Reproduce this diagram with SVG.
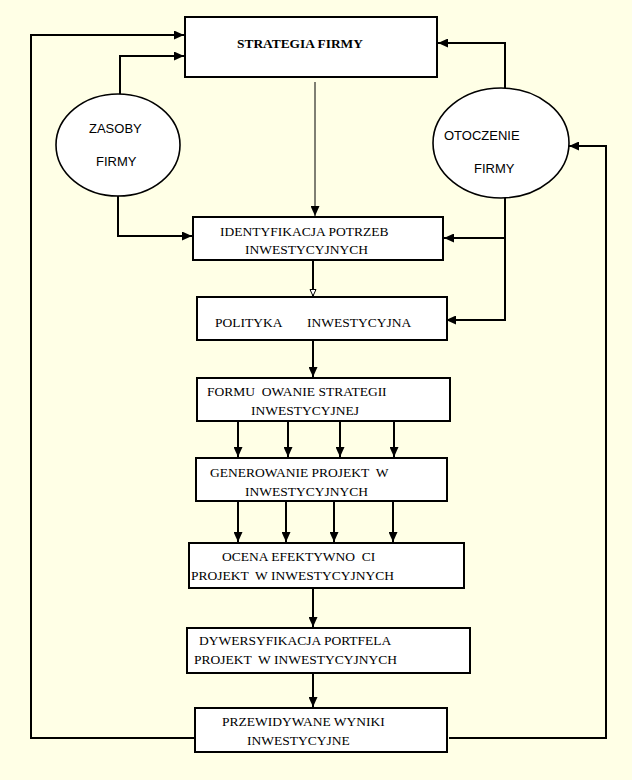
<svg xmlns="http://www.w3.org/2000/svg" width="632" height="780" viewBox="0 0 632 780">
<style>
.box{fill:#fff;stroke:#000;stroke-width:2}
.ell{fill:#fff;stroke:#000;stroke-width:1.6}
.t{font-family:"Liberation Serif","Times New Roman",serif;font-size:13.5px;fill:#000;white-space:pre}
.tb{font-family:"Liberation Serif","Times New Roman",serif;font-size:13.4px;font-weight:bold;fill:#000}
.s{font-family:"Liberation Sans",Arial,sans-serif;font-size:13px;fill:#000}
.c{fill:none;stroke:#000;stroke-width:2}
.thin{fill:none;stroke:#000;stroke-width:1}
</style>
<defs>
<marker id="ah" markerUnits="userSpaceOnUse" markerWidth="11" markerHeight="9" refX="10" refY="4.5" orient="auto">
<path d="M0,0 L10,4.5 L0,9 z" fill="#000"/>
</marker>
<marker id="oh" markerUnits="userSpaceOnUse" markerWidth="9" markerHeight="9" refX="7" refY="3.5" orient="auto">
<path d="M0.5,0.5 L7,3.5 L0.5,6.5 z" fill="#fff" stroke="#000" stroke-width="1"/>
</marker>
</defs>
<rect width="632" height="780" fill="#FFFFE6"/>
<g id="connectors">
<path class="c" d="M195,738 H31 V35 H184" marker-end="url(#ah)"/>
<path class="c" d="M120,94 V56 H184" marker-end="url(#ah)"/>
<path class="c" d="M505,88 V43 H438" marker-end="url(#ah)"/>
<path class="c" d="M449,738 H606 V146 H569" marker-end="url(#ah)"/>
<path class="c" d="M118,196 V236 H192" marker-end="url(#ah)"/>
<path class="c" d="M505,198 V320 H446" marker-end="url(#ah)"/>
<path class="c" d="M505,238 H444" marker-end="url(#ah)"/>
<path class="thin" d="M315,82 V216" marker-end="url(#ah)"/>
<path class="c" d="M313,260 V296" marker-end="url(#oh)"/>
<path class="c" d="M313,340 V377" marker-end="url(#ah)"/>
<path class="c" d="M238,421 V457" marker-end="url(#ah)"/>
<path class="c" d="M288,421 V457" marker-end="url(#ah)"/>
<path class="c" d="M340,421 V457" marker-end="url(#ah)"/>
<path class="c" d="M394,421 V457" marker-end="url(#ah)"/>
<path class="c" d="M238,501 V542" marker-end="url(#ah)"/>
<path class="c" d="M286,501 V542" marker-end="url(#ah)"/>
<path class="c" d="M334,501 V542" marker-end="url(#ah)"/>
<path class="c" d="M393,501 V542" marker-end="url(#ah)"/>
<path class="c" d="M313,588 V627" marker-end="url(#ah)"/>
<path class="c" d="M313,673 V707" marker-end="url(#ah)"/>
</g>
<g id="strategia">
<rect class="box" x="185" y="17" width="252" height="60"/>
<text class="tb" x="237" y="48">STRATEGIA FIRMY</text>
</g>
<g id="zasoby">
<ellipse class="ell" cx="118" cy="145" rx="62" ry="51"/>
<text class="s" x="89" y="133">ZASOBY</text>
<text class="s" x="96" y="166">FIRMY</text>
</g>
<g id="otoczenie">
<ellipse class="ell" cx="501" cy="143" rx="68" ry="55"/>
<text class="s" x="444" y="140">OTOCZENIE</text>
<text class="s" x="474" y="173">FIRMY</text>
</g>
<g id="identyfikacja">
<rect class="box" x="193" y="217" width="250" height="43"/>
<text class="t" x="220" y="236">IDENTYFIKACJA POTRZEB</text>
<text class="t" x="245" y="254">INWESTYCYJNYCH</text>
</g>
<g id="polityka">
<rect class="box" x="197" y="297" width="250" height="43"/>
<text class="t" x="215" y="327">POLITYKA</text>
<text class="t" x="307" y="327">INWESTYCYJNA</text>
</g>
<g id="formulowanie">
<rect class="box" x="197" y="378" width="253" height="43"/>
<text class="t" x="207" y="396">FORMU  OWANIE STRATEGII</text>
<text class="t" x="251" y="415">INWESTYCYJNEJ</text>
</g>
<g id="generowanie">
<rect class="box" x="196" y="458" width="251" height="43"/>
<text class="t" x="210" y="477">GENEROWANIE PROJEKT  W</text>
<text class="t" x="245" y="496">INWESTYCYJNYCH</text>
</g>
<g id="ocena">
<rect class="box" x="189" y="543" width="275" height="45"/>
<text class="t" x="222" y="561">OCENA EFEKTYWNO  CI</text>
<text class="t" x="191" y="580">PROJEKT  W INWESTYCYJNYCH</text>
</g>
<g id="dywersyfikacja">
<rect class="box" x="187" y="628" width="283" height="45"/>
<text class="t" x="199" y="645">DYWERSYFIKACJA PORTFELA</text>
<text class="t" x="194" y="664">PROJEKT  W INWESTYCYJNYCH</text>
</g>
<g id="przewidywane">
<rect class="box" x="195" y="708" width="252" height="44"/>
<text class="t" x="222" y="726">PRZEWIDYWANE WYNIKI</text>
<text class="t" x="247" y="745">INWESTYCYJNE</text>
</g>
</svg>
